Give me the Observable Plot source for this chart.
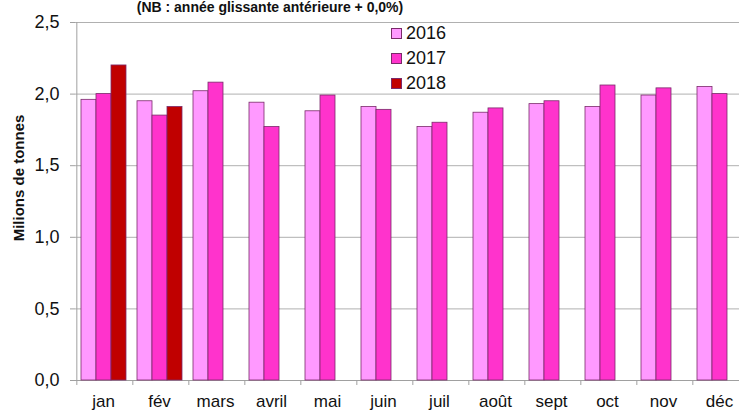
<!DOCTYPE html>
<html>
<head>
<meta charset="utf-8">
<script src="https://cdn.jsdelivr.net/npm/d3@7"></script>
<script src="https://cdn.jsdelivr.net/npm/@observablehq/plot@0.6"></script>
<style>
  html, body { margin: 0; padding: 0; background: #fff; }
  #wrap { position: relative; width: 739px; height: 412px; overflow: hidden; font-family: "Liberation Sans", Arial, sans-serif; }
  #title { position: absolute; left: 0; width: 540px; text-align: center; top: 0px; font-weight: bold; font-size: 14px; line-height: 15px; color: #111; white-space: nowrap; }
  #ylab { position: absolute; left: 18px; top: 178px; transform: translate(-50%, -50%) rotate(-90deg); font-weight: bold; font-size: 15px; color: #111; white-space: nowrap; }
  #legend { position: absolute; left: 391px; top: 21px; font-size: 18px; color: #111; }
  .li { display: flex; align-items: center; height: 25px; }
  .sw { width: 9px; height: 9px; border: 1px solid #7a2a6a; margin-right: 4px; }
  #chart { position: absolute; left: 0; top: 0; }
</style>
</head>
<body>
<div id="wrap">
  <div id="chart"></div>
  <div id="title">(NB : année glissante antérieure + 0,0%)</div>
  <div id="ylab">Milions de tonnes</div>
  <div id="legend"></div>
</div>
<script>
const months = ["jan","fév","mars","avril","mai","juin","juil","août","sept","oct","nov","déc"];
const years = ["2016","2017","2018"];
const colors = ["#FF99FF","#FF33CC","#C00000"];
const v2016 = [1.96, 1.95, 2.02, 1.94, 1.88, 1.91, 1.77, 1.87, 1.93, 1.91, 1.99, 2.05];
const v2017 = [2.00, 1.85, 2.08, 1.77, 1.99, 1.89, 1.80, 1.90, 1.95, 2.06, 2.04, 2.00];
const v2018 = [2.20, 1.91];
const yTicks = [0, 0.5, 1.0, 1.5, 2.0, 2.5];

const data = [];
[v2016, v2017, v2018].forEach((arr, i) => {
  arr.forEach((v, j) => data.push({month: months[j], year: years[i], value: v}));
});
const bounds = months.map(m => ({month: m}));

const fmt = d => d.toFixed(1).replace(".", ",");

const plot = Plot.plot({
  width: 739,
  height: 412,
  marginTop: 22,
  marginBottom: 32,
  marginLeft: 73,
  marginRight: -10,
  style: {fontFamily: "Liberation Sans, Arial, sans-serif", fontSize: "18px", color: "#111", background: "transparent"},
  fx: {domain: months, padding: 0, label: null, axis: null},
  x: {domain: years, paddingInner: 0, paddingOuter: 0.26, axis: null},
  y: {domain: [0, 2.5], ticks: yTicks, tickFormat: fmt, tickSize: 5, tickPadding: 11, label: null},
  color: {domain: years, range: colors},
  marks: [
    Plot.gridY(yTicks, {stroke: "#b0b0b0", strokeOpacity: 1, strokeWidth: 1}),
    Plot.ruleY([0], {stroke: "#a0a0a0"}),
    Plot.ruleX(bounds, {fx: "month", x: () => "2016", dx: -12.16, y1: 0, y2: -0.035, stroke: "#a0a0a0"}),
    Plot.ruleX(bounds.slice(0,1), {fx: "month", x: () => "2016", dx: -12.16, y1: 0, y2: 2.5, stroke: "#a0a0a0"}),
    Plot.barY(data, {fx: "month", x: "year", y: "value", fill: "year", stroke: "#7a2a6a", strokeWidth: 0.8}),
    Plot.axisFx({domain: months, anchor: "bottom", tickSize: 0, tickPadding: 14, fontSize: 17, label: null}),
    Plot.axisY({ticks: yTicks, tickFormat: fmt, tickSize: 5, tickPadding: 11, stroke: "#a0a0a0", label: null})
  ]
});
document.getElementById("chart").appendChild(plot);

const leg = document.getElementById("legend");
years.forEach((y, i) => {
  const row = document.createElement("div");
  row.className = "li";
  const sw = document.createElement("div");
  sw.className = "sw";
  sw.style.background = colors[i];
  row.appendChild(sw);
  const t = document.createElement("span");
  t.textContent = y;
  row.appendChild(t);
  leg.appendChild(row);
});
</script>
</body>
</html>
